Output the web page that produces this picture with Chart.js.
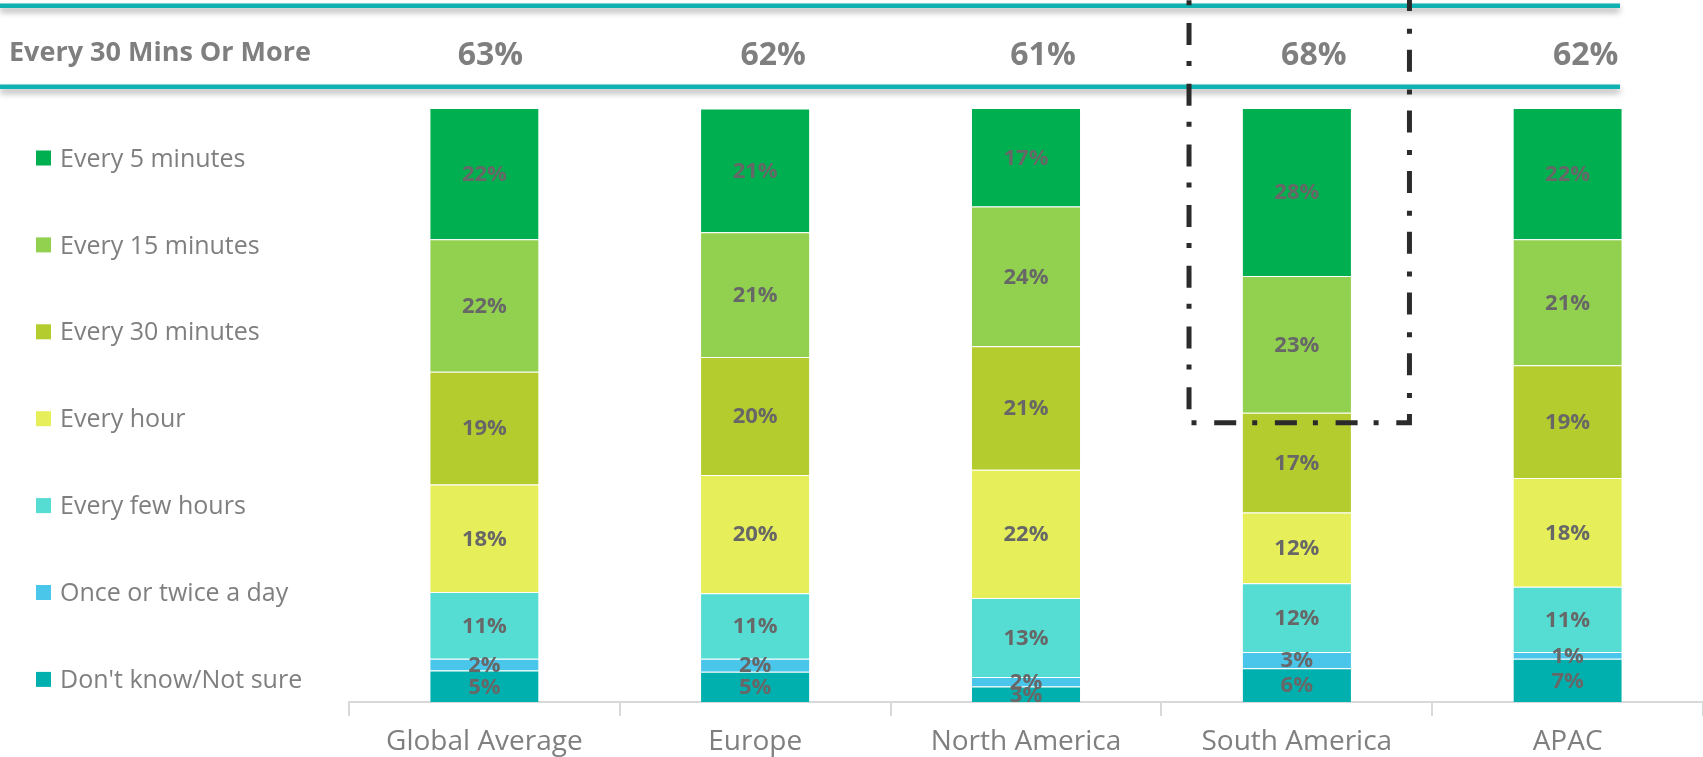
<!DOCTYPE html>
<html><head><meta charset="utf-8">
<script src="https://cdn.jsdelivr.net/npm/chart.js@4.4.1/dist/chart.umd.min.js"></script>
<style>html,body{margin:0;padding:0;background:#fff;overflow:hidden}#wrap{width:1703px;height:757px;position:relative}</style>
</head><body><div id="wrap"><canvas id="c" width="1703" height="757"></canvas></div>
<script>
const categories = ['Global Average', 'Europe', 'North America', 'South America', 'APAC'];
const seriesNames = ["Don't know/Not sure", 'Once or twice a day', 'Every few hours', 'Every hour', 'Every 30 minutes', 'Every 15 minutes', 'Every 5 minutes'];
const dontKnow  = [5.3, 5.1, 2.6, 5.7, 7.3];
const onceTwice = [2.0, 2.2, 1.6, 2.7, 1.1];
const fewHours  = [11.2, 11.0, 13.3, 11.6, 11.0];
const everyHour = [18.1, 19.9, 21.6, 11.9, 18.3];
const every30   = [19.0, 19.9, 20.8, 16.8, 19.0];
const every15   = [22.3, 21.0, 23.5, 23.0, 21.2];
const every5    = [22.1, 20.8, 16.6, 28.3, 22.1];
const headerLabel = 'Every 30 Mins Or More';
const headerValues = [63, 62, 61, 68, 62];
const highlightIndex = 3;
const seriesColors = ['#00B0AE', '#4BC6EB', '#55DCD3', '#E6EE5A', '#B4CC2E', '#92D050', '#00B050'];

const seriesValues = [dontKnow, onceTwice, fewHours, everyHour, every30, every15, every5];
const datasets = seriesValues.map((vals, i) => ({
  label: seriesNames[i],
  data: vals,
  backgroundColor: seriesColors[i],
  borderColor: 'rgba(255,255,255,0.55)',
  borderWidth: {top: 1, left: 0, right: 0, bottom: 0},
  borderSkipped: false,
  categoryPercentage: 1.0,
  barPercentage: 0.4
}));

const FONT = 'Open Sans';
// horizontal nudges of the header percentages relative to each bar centre (layout only)
const headerNudge = [6, 18, 17, 17, 18];

const decor = {
  id: 'decor',
  afterDatasetsDraw(chart) {
    const ctx = chart.ctx;
    ctx.save();
    ctx.fillStyle = '#676767';
    ctx.font = 'bold 22px "' + FONT + '"';
    ctx.textAlign = 'center';
    ctx.textBaseline = 'middle';
    chart.data.datasets.forEach((ds, di) => {
      const meta = chart.getDatasetMeta(di);
      meta.data.forEach((bar, i) => {
        const cy = (bar.y + bar.base) / 2;
        ctx.fillText(Math.round(ds.data[i]) + '%', bar.x, cy + 1);
      });
    });
    ctx.restore();
  },
  afterDraw(chart) {
    const ctx = chart.ctx;
    // header lines with shadow
    ctx.save();
    ctx.shadowColor = 'rgba(0,0,0,0.35)';
    ctx.shadowBlur = 6;
    ctx.shadowOffsetY = 4;
    ctx.fillStyle = '#0FB1B1';
    ctx.fillRect(0, 3.5, 1620, 4.5);
    ctx.fillRect(0, 84.5, 1620, 4.5);
    ctx.restore();
    // header label + values
    ctx.save();
    ctx.fillStyle = '#7F7F7F';
    ctx.font = 'bold 27px "' + FONT + '"';
    ctx.textBaseline = 'alphabetic';
    ctx.textAlign = 'left';
    ctx.fillText(headerLabel, 9, 61);
    ctx.font = 'bold 32px "' + FONT + '"';
    ctx.textAlign = 'center';
    const meta0 = chart.getDatasetMeta(0);
    headerValues.forEach((v, i) => {
      ctx.fillText(v + '%', meta0.data[i].x + headerNudge[i], 64.5);
    });
    ctx.restore();
    // legend (top to bottom = reverse dataset order)
    ctx.save();
    ctx.font = '25px "' + FONT + '"';
    ctx.textBaseline = 'middle';
    ctx.textAlign = 'left';
    const order = [6, 5, 4, 3, 2, 1, 0];
    order.forEach((di, k) => {
      const y = 158 + k * 86.9;
      ctx.fillStyle = seriesColors[di];
      ctx.fillRect(36, y - 7.5, 15, 15);
      ctx.fillStyle = '#7F7F7F';
      ctx.fillText(seriesNames[di], 60, y + 1.5);
    });
    ctx.restore();
    // dashed highlight box around South America top segments
    const xs = chart.scales.x, ys = chart.scales.y;
    const cx = xs.getPixelForValue(highlightIndex);
    const cw = xs.width / categories.length;
    const left = cx - 0.398 * cw, right = cx + 0.416 * cw;
    const boundary = 100 - every5[highlightIndex] - every15[highlightIndex];
    const bottom = ys.getPixelForValue(boundary) + 10;
    ctx.save();
    ctx.strokeStyle = '#2B2B2B';
    ctx.lineWidth = 5;
    ctx.setLineDash([22, 16, 5, 17.7]);
    ctx.lineDashOffset = 37.7;
    ctx.beginPath();
    ctx.moveTo(left, 0);
    ctx.lineTo(left, bottom);
    ctx.lineTo(right, bottom);
    ctx.lineTo(right, 0);
    ctx.stroke();
    ctx.restore();
  }
};

new Chart(document.getElementById('c'), {
  type: 'bar',
  data: {labels: categories, datasets},
  options: {
    responsive: false,
    animation: false,
    layout: {padding: {left: 349, right: 0, top: 108, bottom: 0}},
    plugins: {legend: {display: false}, tooltip: {enabled: false}},
    scales: {
      x: {
        stacked: true,
        grid: {offset: true, drawOnChartArea: false, drawTicks: true, tickLength: 14, color: '#D9D9D9', lineWidth: 2},
        border: {display: true, color: '#D9D9D9', width: 2},
        ticks: {color: '#7F7F7F', font: {family: FONT, size: 28}, padding: 9, maxRotation: 0, autoSkip: false},
        afterFit(s) { s.height = 55; }
      },
      y: {stacked: true, display: false, min: 0, max: 100}
    }
  },
  plugins: [decor]
});
</script>
</body></html>
